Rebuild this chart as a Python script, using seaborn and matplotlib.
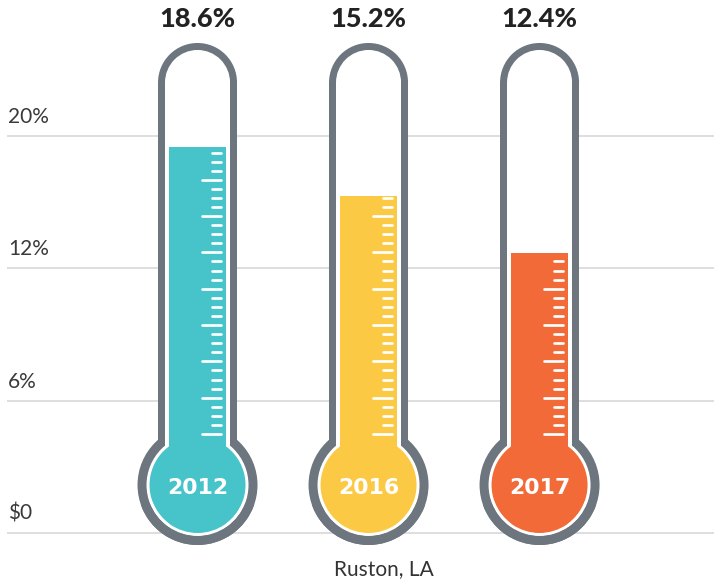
import numpy as np
import pandas as pd
import matplotlib
matplotlib.use('Agg')
import matplotlib.pyplot as plt
import matplotlib.patches as mpatches
import matplotlib.transforms as mtransforms
import seaborn as sns

# ---- data ----
years = ['2012', '2016', '2017']
pct_labels = ['18.6%', '15.2%', '12.4%']
fill_level = [2.917, 2.547, 2.116]          # fill height in grid-line units
grid_vals = [0, 1, 2, 3]
grid_labels = ['$0', '6%', '12%', '20%']
colors = ['#47C4C9', '#FCC944', '#F26A37']
city = 'Ruston, LA'

sns.set_theme(style='white')
plt.rcParams['font.family'] = ['Lato', 'DejaVu Sans']

W, H = 714, 583
fig = plt.figure(figsize=(W / 100, H / 100), dpi=100)
ax = fig.add_axes([7 / W, 0, (W - 7) / W, 1])
XLIM = (-1.114, 3.020)
YLIM = (-0.378, 4.028)

df = pd.DataFrame({'year': years, 'level': fill_level})
sns.barplot(data=df, x='year', y='level', hue='year', palette=colors,
            saturation=1, width=57 / 171, legend=False, linewidth=0,
            zorder=3, ax=ax)
ax.set_xlim(*XLIM)
ax.set_ylim(*YLIM)
sx = (W - 7) / (XLIM[1] - XLIM[0])
sy = H / (YLIM[1] - YLIM[0])

GRAY = '#6D767E'
for i, (lvl, col) in enumerate(zip(fill_level, colors)):
    tf = mtransforms.Affine2D().scale(1 / sx, 1 / sy).translate(i, 0) + ax.transData

    def add(p):
        p.set_transform(tf)
        ax.add_patch(p)

    # outer grey body
    add(mpatches.Circle((0, 48), 60, fc=GRAY, ec='none', zorder=1))
    add(mpatches.Rectangle((-39.5, 48), 79, 402.5, fc=GRAY, ec='none', zorder=1))
    add(mpatches.Circle((0, 450.5), 39.5, fc=GRAY, ec='none', zorder=1))
    # white inner
    add(mpatches.Circle((0, 48), 51, fc='white', ec='none', zorder=2))
    add(mpatches.Rectangle((-32.5, 48), 65, 402.5, fc='white', ec='none', zorder=2))
    add(mpatches.Circle((0, 450.5), 32.5, fc='white', ec='none', zorder=2))
    # bulb fill
    add(mpatches.Circle((0, 48), 48, fc=col, ec='none', zorder=3))
    # rings over bar corners
    add(mpatches.Wedge((0, 48), 51, 200, 340, width=3, fc='white', ec='none', zorder=4))
    add(mpatches.Wedge((0, 48), 60, 200, 340, width=9, fc=GRAY, ec='none', zorder=4))

    # scale ticks
    lvl_px = lvl * sy
    for k in range(40):
        ty = 99 + 9.08 * k
        if ty > lvl_px - 1.5:
            break
        x0 = 4.5 if k % 4 == 0 else 14.5
        ax.plot([x0, 23.5], [ty, ty], color='white', lw=1.95,
                solid_capstyle='round', transform=tf, zorder=5)

    ax.text(i, 39 / sy, years[i], ha='center', va='baseline', color='white',
            fontsize=15.8, fontweight='bold', family=['DejaVu Sans'], zorder=6)
    ax.text(i, 506.3 / sy, pct_labels[i], ha='center', va='baseline',
            color='#222222', fontsize=19.5, fontweight='black', zorder=6)

for v, lab in zip(grid_vals, grid_labels):
    ax.text(XLIM[0] + 1 / sx, v + 13 / sy, lab, ha='left', va='baseline',
            fontsize=15, fontweight='normal', color='#3a3a3a')

ax.text((383.5 - 197.5) / 171, -42 / sy, city, ha='center', va='baseline',
        fontsize=15, color='#333333')

ax.set_yticks(grid_vals)
ax.yaxis.grid(True, color='#D4D4D4', lw=1.1)
ax.xaxis.grid(False)
ax.set_axisbelow(True)
ax.tick_params(left=False, bottom=False, labelleft=False, labelbottom=False)
ax.set_xlabel('')
ax.set_ylabel('')
for s in ax.spines.values():
    s.set_visible(False)
ax.set_xlim(*XLIM)
ax.set_ylim(*YLIM)

fig.savefig('out.png', dpi=100)
